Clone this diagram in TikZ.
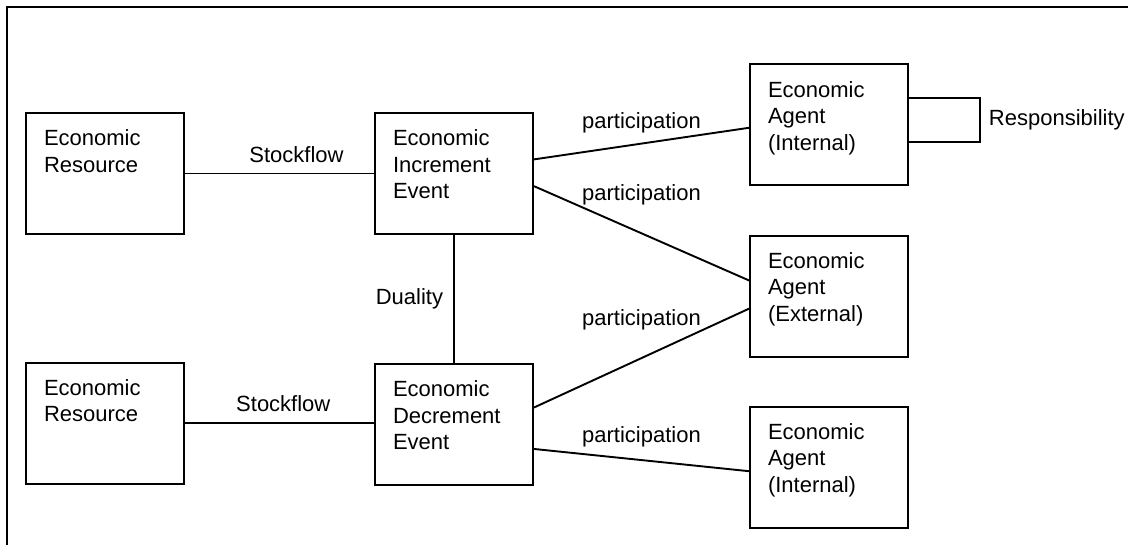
\documentclass[tikz,border=0pt]{standalone}
\usepackage{fontspec}
\setmainfont{Liberation Sans}
\usetikzlibrary{positioning, calc}
\tikzstyle{entity} = [rectangle, draw=black, line width=1pt, minimum width=79pt, minimum height=60.5pt, text width=61pt, align=left, inner xsep=9pt, inner ysep=0pt, text height=16.3pt, text depth=44.2pt]
\tikzstyle{link} = [draw=black, line width=0.95pt]
\tikzstyle{lbl} = [inner sep=5pt]

\begin{document}
\begin{tikzpicture}[font=\fontsize{11}{13.3}\selectfont]
				\useasboundingbox (0,0) rectangle (564pt,-272.5pt);
				\coordinate (framebot) at (3.5pt,-272.5pt);
				\coordinate (framecorner) at (3.5pt,-3.5pt);
				\coordinate (frameright) at (564pt,-3.5pt);
				\draw[line width=1.1pt] (framebot) -- (framecorner) -- (frameright);

				\node (inc) [entity] at (227pt,-86.75pt) {Economic\\Increment\\Event};
				\node (dec) [entity, below=64pt of inc] {Economic\\Decrement\\Event};
				\node (res1) [entity, left=94.5pt of inc] {Economic\\Resource};
				\node (res2) [entity, left=94.5pt of dec, yshift=0.75pt] {Economic\\Resource};
				\node (intagent) [entity, right=107.5pt of inc, yshift=24.25pt] {Economic\\Agent\\(Internal)};
				\node (extagent) [entity, below=24pt of intagent] {Economic\\Agent\\(External)};
				\node (intagent2) [entity, below=24pt of extagent] {Economic\\Agent\\(Internal)};
				\coordinate (resptop) at ($(intagent.east)+(0,13.5pt)$);
				\coordinate (respbot) at ($(intagent.east)+(0,-8.5pt)$);

				\draw[link] (res1) -- node[lbl, above, pos=0.59]{Stockflow} (inc);
				\draw[link] (res2.east) -- node[lbl, above, pos=0.52]{Stockflow} (res2.east -| dec.west);
				\draw[link] (inc) -- node[lbl, left]{Duality} (dec);
				\draw[link] (inc.10) -- node[lbl, above]{participation} (intagent.182);
				\draw[link] (inc.-9) -- node[lbl, above, yshift=8.5pt]{participation} (extagent.169);
				\draw[link] (dec.12) -- node[lbl, above, yshift=8.5pt]{participation} (extagent.189);
				\draw[link] (dec.-17) -- node[lbl, above, yshift=1pt]{participation} (intagent2.183);
				\draw[link] (resptop) -- ++(35.5pt,0) |- node[lbl, right, pos=0.25, inner sep=4pt]{Responsibility} (respbot);
			\end{tikzpicture}
\end{document}
